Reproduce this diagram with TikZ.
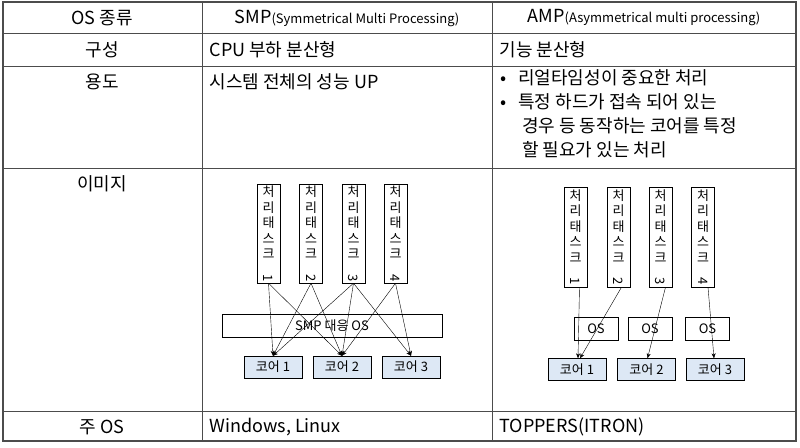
\documentclass[tikz,border=0pt]{standalone}
\usepackage{fontspec}
\setmainfont{Noto Sans CJK KR}
\usetikzlibrary{arrows.meta}
\definecolor{corefill}{RGB}{221,232,245}
\begin{document}
\begin{tikzpicture}[x=1pt,y=-1pt,
  cell/.style={font=\fontsize{18}{22}\selectfont},
  task/.style={draw,thin,minimum width=23pt,minimum height=99pt,inner sep=0pt,align=center,font=\fontsize{13}{15.5}\selectfont},
  box/.style={draw,thin,inner sep=0pt,font=\fontsize{13}{15}\selectfont},
  core/.style={box,fill=corefill,minimum width=58pt,minimum height=22pt},
  arr/.style={-{Stealth[length=5pt,width=4pt]},thin}]
\useasboundingbox (0,0) rectangle (800,447);
% table grid
\draw[line width=1.2pt,gray!60!black] (3,2) rectangle (796,441);
\foreach \y in {33,66,168,411} \draw[thick,gray!60!black] (3,\y) -- (796,\y);
\foreach \x in {202,492} \draw[thick,gray!60!black] (\x,2) -- (\x,441);
% header row
\node[cell] (h0) at (102,18) {OS 종류};
\node[cell] (h1) at (347,18) {SMP{\fontsize{13}{15}\selectfont(Symmetrical Multi Processing)}};
\node[cell] (h2) at (644,18) {AMP{\fontsize{13}{15}\selectfont(Asymmetrical multi processing)}};
\node[cell] (r1) at (102,50) {구성};
\node[cell,anchor=west] (r1a) at (206,50) {CPU 부하 분산형};
\node[cell,anchor=west] (r1b) at (496,50) {기능 분산형};
\node[cell] (r2) at (102,82) {용도};
\node[cell,anchor=west] (r2a) at (206,82) {시스템 전체의 성능 UP};
\node[cell,anchor=north west,align=left,inner sep=0pt,font=\fontsize{18}{24}\selectfont] (r2b) at (500,69)
  {•\hspace{12pt}리얼타임성이 중요한 처리\\ •\hspace{12pt}특정 하드가 접속 되어 있는\\ \hspace{22pt}경우 등 동작하는 코어를 특정\\ \hspace{22pt}할 필요가 있는 처리};
\node[cell] (r3) at (102,184) {이미지};
\node[cell] (r4) at (102,427) {주 OS};
\node[cell,anchor=west] (r4a) at (206,427) {Windows, Linux};
\node[cell,anchor=west] (r4b) at (496,427) {TOPPERS(ITRON)};
% SMP picture
\foreach \i/\x in {1/268.5,2/311,3/353.5,4/395.5}
  \node[task] (s\i) at (\x,233.5) {처\\리\\태\\스\\크\\\rotatebox{-90}{\i}};
\node[box,minimum width=220pt,minimum height=23pt] (sos) at (332,325.5) {SMP 대응 OS};
\node[core] (sc1) at (273,367) {코어 1};
\node[core] (sc2) at (342,367) {코어 2};
\node[core] (sc3) at (411,367) {코어 3};
\draw[arr] (s1.south) -- (sc1.north);
\draw[arr] (s1.south) -- (sc2.north);
\draw[arr] (s2.south) -- (sc1.north);
\draw[arr] (s2.south) -- (sc2.north);
\draw[arr] (s3.south) -- (sc1.north);
\draw[arr] (s3.south) -- (sc2.north);
\draw[arr] (s3.south) -- (sc3.north);
\draw[arr] (s4.south) -- (sc2.north);
\draw[arr] (s4.south) -- (sc3.north);
% AMP picture
\foreach \i/\x in {1/575.5,2/618.5,3/660.5,4/703}
  \node[task,minimum height=100pt] (a\i) at (\x,237) {처\\리\\태\\스\\크\\\rotatebox{-90}{\i}};
\foreach \i/\x in {1/596,2/650,3/707.5}
  \node[box,minimum width=44pt,minimum height=23pt] (aos\i) at (\x,328.5) {OS};
\node[core] (ac1) at (577,369.5) {코어 1};
\node[core] (ac2) at (646.5,369.5) {코어 2};
\node[core] (ac3) at (715,369.5) {코어 3};
\draw[arr] ([xshift=4pt]a1.south) -- ([xshift=1pt]ac1.north);
\draw[arr] ([xshift=3pt]a2.south) -- ([xshift=3pt]ac1.north);
\draw[arr] ([xshift=5pt]a3.south) -- ([xshift=1pt]ac2.north);
\draw[arr] ([xshift=5pt]a4.south) -- ([xshift=-1pt]ac3.north);
\end{tikzpicture}
\end{document}
